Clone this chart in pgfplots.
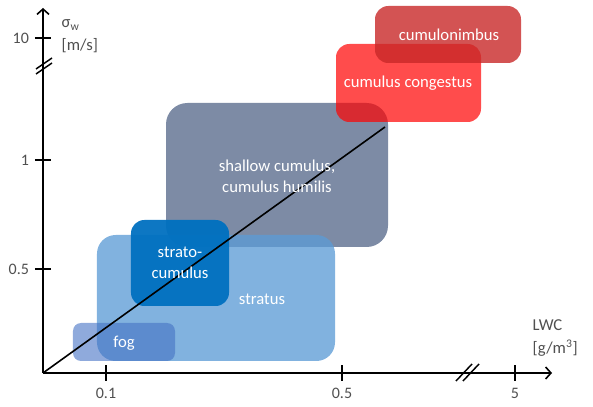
\documentclass[border=0pt]{standalone}
\usepackage{fontspec}
\setmainfont{Carlito}
\usepackage{pgfplots}
\pgfplotsset{compat=1.18}
\usetikzlibrary{arrows.meta}

\definecolor{txtgray}{RGB}{80,80,80}
\definecolor{fogc}{RGB}{68,114,196}
\definecolor{stratusc}{RGB}{91,155,213}
\definecolor{scuc}{RGB}{0,112,192}
\definecolor{shallowc}{RGB}{31,56,100}
\definecolor{cbc}{RGB}{200,40,40}

\begin{document}
\begin{tikzpicture}
\begin{axis}[
  scale only axis,
  width=381.75pt, height=273.75pt,
  xmin=43, xmax=552, ymin=34, ymax=399,
  axis lines=left,
  axis line style={line width=1.5pt, -{Straight Barb[length=4pt,width=9pt,line width=1.2pt]}},
  xtick={106,342,515}, xticklabels={0.1,0.5,5},
  ytick={138,247,369}, yticklabels={0.5,1,10},
  tick align=center, major tick length=12pt,
  tick style={line width=1.2pt, black},
  ticklabel style={font=\fontsize{12}{14}\selectfont, text=txtgray},
  xticklabel style={yshift=-2pt},
  yticklabel style={xshift=-1pt},
  /pgf/number format/assume math mode=true,
  clip=false,
]
% page extent
\path (axis cs:0,0) rectangle (axis cs:593,407);

% regimes: LWC range (x) versus sigma_w range (y)
\addplot[draw=none, fill=shallowc, fill opacity=0.58, rounded corners=16pt]
  coordinates {(277,160) (388,160) (388,304) (166,304) (166,160)} -- cycle;
\addplot[draw=none, fill=stratusc, fill opacity=0.77, rounded corners=14pt]
  coordinates {(216,46) (335,46) (335,172) (97,172) (97,46)} -- cycle;
\addplot[draw=none, fill=fogc, fill opacity=0.6, rounded corners=6pt]
  coordinates {(124,46) (175,46) (175,84) (73,84) (73,46)} -- cycle;
\addplot[draw=none, fill=scuc, fill opacity=0.95, rounded corners=10pt]
  coordinates {(180,101) (229,101) (229,187) (131,187) (131,101)} -- cycle;
\addplot[draw=none, fill=red, fill opacity=0.7, rounded corners=10pt]
  coordinates {(408,285) (481,285) (481,363) (336,363) (336,285)} -- cycle;
\addplot[draw=none, fill=cbc, fill opacity=0.8, rounded corners=10pt]
  coordinates {(448,344) (521,344) (521,401) (375,401) (375,344)} -- cycle;

% scaling line
\addplot[black, line width=1.2pt] coordinates {(43,34) (385,280)};

% axis breaks
\draw[line width=1.1pt] (axis cs:36,333) -- (axis cs:52,344);
\draw[line width=1.1pt] (axis cs:36,338) -- (axis cs:52,349);
\draw[line width=1.1pt] (axis cs:456,26) -- (axis cs:472,43);
\draw[line width=1.1pt] (axis cs:463,26) -- (axis cs:479,43);

% region labels
\begin{scope}[every node/.style={text=white, font=\fontsize{12.5}{16}\selectfont, align=center}]
\node at (axis cs:277,231) {shallow cumulus,\\cumulus humilis};
\node at (axis cs:180,144) {strato-\\cumulus};
\node at (axis cs:262,108) {stratus};
\node at (axis cs:124,64) {fog};
\node at (axis cs:408,324) {cumulus congestus};
\node at (axis cs:449,372) {cumulonimbus};
\end{scope}

% axis titles
\node[anchor=north west, align=left, text=txtgray, font=\fontsize{12.5}{17}\selectfont]
  at (axis cs:57,392) {σ\textsubscript{w}\\{}[m/s]};
\node[anchor=north west, align=left, text=txtgray, font=\fontsize{12.5}{17}\selectfont]
  at (axis cs:528,92) {LWC\\{}[g/m\textsuperscript{3}]};
\end{axis}
\end{tikzpicture}
\end{document}
